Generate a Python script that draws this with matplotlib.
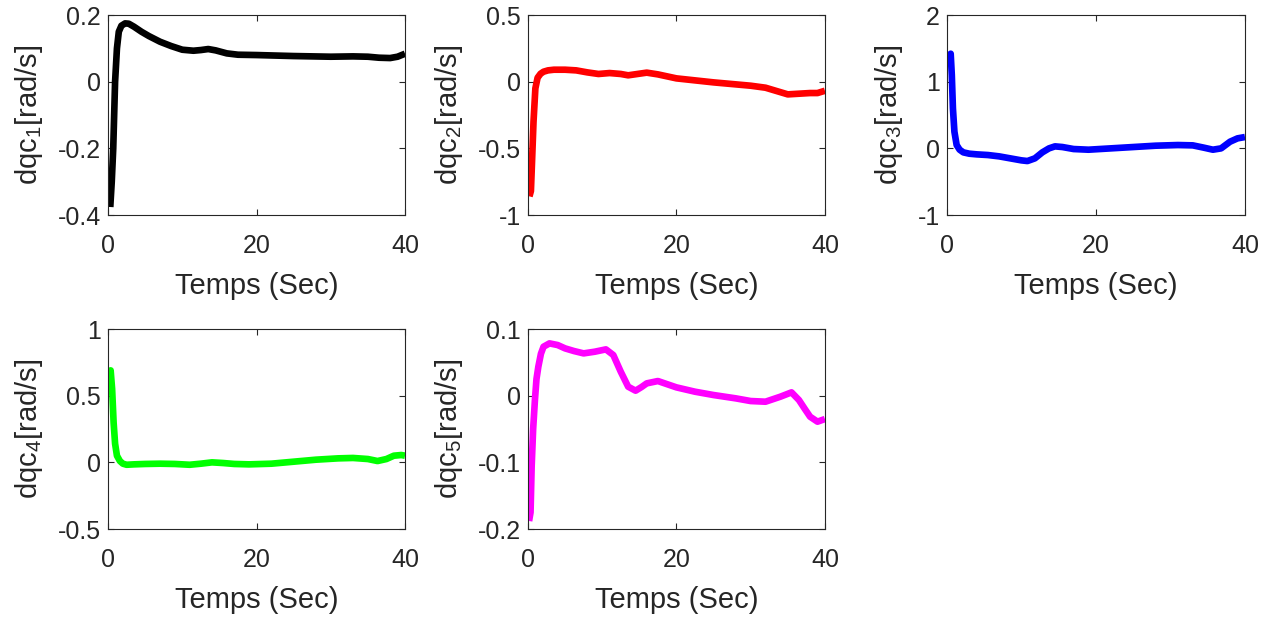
import numpy as np
import matplotlib.pyplot as plt

plt.rcParams['font.family'] = ['Liberation Sans', 'DejaVu Sans']
plt.rcParams['mathtext.default'] = 'regular'

# time samples (s) and joint velocities
t1 = [0.3, 0.5, 0.7, 0.95, 1.2, 1.45, 1.8, 2.3, 2.8, 3.5, 4.5, 5.5, 7, 8.5, 10, 11.5,
      12.5, 13.5, 14.5, 16, 17.5, 20, 25, 30, 33, 35, 36.5, 38, 39, 40]
dqc1 = [-0.376, -0.30, -0.20, 0.0, 0.10, 0.15, 0.168, 0.175, 0.174, 0.165, 0.15, 0.137,
        0.12, 0.107, 0.096, 0.093, 0.095, 0.098, 0.094, 0.085, 0.081, 0.08, 0.077, 0.075,
        0.076, 0.075, 0.072, 0.071, 0.075, 0.084]

t2 = [0.2, 0.4, 0.55, 0.75, 1.0, 1.3, 1.7, 2.1, 2.7, 3.5, 5, 6.5, 8, 9.5, 11, 12.5,
      13.5, 15, 16, 17.5, 20, 25, 30, 32, 33.5, 35, 36.5, 38, 39, 40]
dqc2 = [-0.86, -0.82, -0.6, -0.3, -0.05, 0.03, 0.06, 0.075, 0.085, 0.09, 0.09, 0.085,
        0.07, 0.058, 0.065, 0.058, 0.048, 0.06, 0.068, 0.055, 0.025, -0.005, -0.03,
        -0.045, -0.07, -0.095, -0.09, -0.085, -0.085, -0.068]

t3 = [0.2, 0.5, 0.65, 0.8, 1.0, 1.3, 1.7, 2.2, 3, 4, 5.5, 7, 8.5, 10, 10.8, 11.8, 12.8,
      13.7, 14.5, 15.5, 17, 19, 22, 25, 28, 31, 33, 34.5, 35.7, 36.8, 38, 39, 40]
dqc3 = [1.38, 1.42, 1.1, 0.6, 0.25, 0.05, -0.02, -0.06, -0.08, -0.09, -0.1, -0.12,
        -0.15, -0.18, -0.19, -0.15, -0.06, 0.0, 0.03, 0.02, -0.01, -0.02, 0.0, 0.02,
        0.04, 0.05, 0.045, 0.01, -0.02, 0.0, 0.1, 0.15, 0.17]

t4 = [0.1, 0.35, 0.55, 0.75, 0.95, 1.2, 1.6, 2.0, 2.5, 3.5, 5, 7, 9, 11, 12.5, 14,
      15.5, 17, 19, 22, 25, 28, 31, 33, 35, 36.3, 37.5, 38.5, 39.5, 40]
dqc4 = [0.67, 0.69, 0.55, 0.3, 0.14, 0.05, 0.01, -0.01, -0.018, -0.015, -0.012,
        -0.01, -0.012, -0.018, -0.01, 0.0, -0.005, -0.012, -0.015, -0.01, 0.005,
        0.02, 0.03, 0.033, 0.025, 0.01, 0.025, 0.05, 0.055, 0.05]

t5 = [0.15, 0.35, 0.5, 0.7, 0.94, 1.15, 1.4, 1.75, 2.1, 2.9, 4, 5, 6.2, 7.5, 9, 10.5,
      11.5, 12.5, 13.5, 14.5, 15.3, 16, 17.5, 20, 22.5, 25, 28, 30, 32, 34, 35.5,
      36.5, 37.3, 38, 39, 40]
dqc5 = [-0.188, -0.175, -0.106, -0.05, -0.0065, 0.025, 0.0435, 0.063, 0.0735, 0.0785,
        0.076, 0.071, 0.067, 0.0635, 0.066, 0.0695, 0.061, 0.036, 0.0135, 0.0075,
        0.013, 0.0185, 0.022, 0.0125, 0.006, 0.001, -0.004, -0.008, -0.009, -0.0015,
        0.005, -0.0065, -0.02, -0.0315, -0.039, -0.035]

series = [(t1, dqc1, 'k', (-0.4, 0.2), [-0.4, -0.2, 0, 0.2], ['-0.4', '-0.2', '0', '0.2']),
          (t2, dqc2, '#ff0000', (-1, 0.5), [-1, -0.5, 0, 0.5], ['-1', '-0.5', '0', '0.5']),
          (t3, dqc3, '#0000ff', (-1, 2), [-1, 0, 1, 2], ['-1', '0', '1', '2']),
          (t4, dqc4, '#00ff00', (-0.5, 1), [-0.5, 0, 0.5, 1], ['-0.5', '0', '0.5', '1']),
          (t5, dqc5, '#ff00ff', (-0.2, 0.1), [-0.2, -0.1, 0, 0.1], ['-0.2', '-0.1', '0', '0.1'])]

# axes boxes in figure fractions (left, bottom, width, height)
boxes = [[0.0848, 0.6515, 0.2331, 0.3241],
         [0.4144, 0.6515, 0.2331, 0.3241],
         [0.7433, 0.6515, 0.2339, 0.3241],
         [0.0848, 0.1426, 0.2331, 0.3241],
         [0.4144, 0.1426, 0.2331, 0.3241]]

fig = plt.figure(figsize=(12.74, 6.17), dpi=100)
for i, (t, y, col, ylim, yt, ytl) in enumerate(series):
    ax = fig.add_axes(boxes[i])
    ax.plot(t, y, color=col, linewidth=4.8, solid_capstyle='butt')
    ax.set_xlim(0, 40)
    ax.set_ylim(*ylim)
    ax.set_xticks([0, 20, 40])
    ax.set_yticks(yt)
    ax.set_yticklabels(ytl)
    ax.tick_params(direction='in', top=True, right=True, length=4, width=0.8,
                   labelsize=18, colors='#262626')
    ax.tick_params(axis='y', pad=5)
    ax.tick_params(axis='x', pad=14)
    for s in ax.spines.values():
        s.set_color('#262626')
        s.set_linewidth(0.8)
    ax.set_xlabel('Temps (Sec)', fontsize=21, color='#262626', labelpad=10)
    ax.set_ylabel('dqc$_{%d}$[rad/s]' % (i + 1), fontsize=21, color='#262626', labelpad=9)

fig.savefig('out.png', dpi=100)
